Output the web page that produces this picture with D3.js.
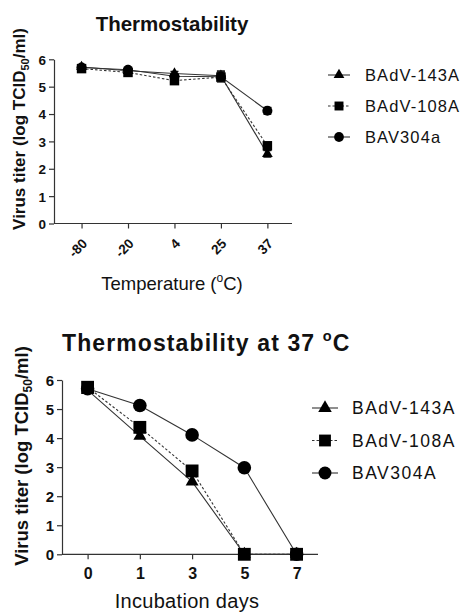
<!DOCTYPE html>
<html><head><meta charset="utf-8">
<script src="https://cdn.jsdelivr.net/npm/d3@7"></script>
<style>body{margin:0;background:#fff}svg{display:block}text{font-family:"Liberation Sans",Arial,sans-serif;fill:#111}</style>
</head><body><svg id="c" width="461" height="614"></svg>
<script>
const series = ["BAdV-143A","BAdV-108A","BAV304a"];
const seriesB = ["BAdV-143A","BAdV-108A","BAV304A"];
const tempLabels = ["-80","-20","4","25","37"];
const temp143 = [5.72,5.58,5.48,5.40,2.54];
const temp108 = [5.66,5.52,5.22,5.35,2.84];
const temp304 = [5.70,5.62,5.38,5.36,4.12];
const tempErr = [0.05,0.08,0.08,0.18,0.12];
const dayLabels = ["0","1","3","5","7"];
const day143 = [5.65,4.07,2.50,0,0];
const day108 = [5.75,4.37,2.87,0,0];
const day304 = [5.70,5.12,4.11,2.98,0];
const yTicks = [0,1,2,3,4,5,6];

const svg = d3.select("#c");
const shapes = [d3.symbolTriangle, d3.symbolSquare, d3.symbolCircle];
const dashes = [null, "2.5,2", null];

function panel(o){
  const g = svg.append("g");
  const x = d3.scaleLinear().domain([o.xmin, o.xmax]).range([o.left, o.right]);
  const y = d3.scaleLinear().domain([0,6]).range([o.bottom, o.top]);
  const ya = g.append("g").attr("transform",`translate(${o.left},0)`)
    .call(d3.axisLeft(y).tickValues(yTicks).tickFormat(d3.format("d")).tickSize(5).tickSizeOuter(0));
  ya.select(".domain").attr("stroke","#333").attr("stroke-width",1.2);
  ya.selectAll(".tick line").attr("stroke","#333").attr("stroke-width",1.2);
  ya.selectAll("text").attr("font-size",o.yTickFont).attr("font-weight","bold").attr("x",-8).attr("dy","0.36em").style("font-family","Liberation Sans").style("fill","#111");
  const xa = g.append("g").attr("transform",`translate(0,${o.bottom})`)
    .call(d3.axisBottom(x).tickValues(d3.range(o.labels.length)).tickFormat(i=>o.labels[i]).tickSize(5).tickSizeOuter(0));
  xa.select(".domain").attr("stroke","#333").attr("stroke-width",1.2).attr("d",`M${o.left},0H${o.right}`);
  xa.selectAll(".tick line").attr("stroke","#333").attr("stroke-width",1.2);
  const xt = xa.selectAll("text").attr("font-size",o.xTickFont).attr("font-weight","bold").style("font-family","Liberation Sans").style("fill","#111");
  if(o.rotate){
    xt.attr("text-anchor","end").attr("y",0).attr("dy",0)
      .attr("transform","translate(6,21) rotate(-45)");
  } else {
    xt.attr("y",o.xTickY).attr("dy",0);
  }
  o.data.forEach((vals,si)=>{
    const line = d3.line().x((d,i)=>x(i)).y(d=>y(d));
    g.append("path").datum(vals).attr("d",line).attr("fill","none")
      .attr("stroke","#333").attr("stroke-width",1.1).attr("stroke-dasharray",dashes[si]);
  });
  o.data.forEach((vals,si)=>{
    if(o.err){
      vals.forEach((v,i)=>{
        const e=o.err[i];
        g.append("path").attr("d",`M${x(i)},${y(v+e)}V${y(v-e)}M${x(i)-4},${y(v+e)}H${x(i)+4}M${x(i)-4},${y(v-e)}H${x(i)+4}`)
          .attr("stroke","#111").attr("stroke-width",1.2);
      });
    }
    g.selectAll(null).data(vals).enter().append("path")
      .attr("transform",(d,i)=>`translate(${x(i)},${y(d)})`)
      .attr("d",d3.symbol().type(shapes[si]).size(o.msize[si])).attr("fill","#000");
  });
  o.names.forEach((n,si)=>{
    const ly = o.legY + si*o.legDy;
    g.append("line").attr("x1",o.legX).attr("x2",o.legX+o.legW).attr("y1",ly).attr("y2",ly)
      .attr("stroke","#333").attr("stroke-width",1.1).attr("stroke-dasharray",dashes[si]);
    g.append("path").attr("transform",`translate(${o.legX+o.legW/2},${ly})`)
      .attr("d",d3.symbol().type(shapes[si]).size(o.lsize[si])).attr("fill","#000");
    g.append("text").attr("x",o.legTx).attr("y",ly).attr("dy","0.36em")
      .attr("font-size",o.legFont).attr("letter-spacing",o.legLs).text(n);
  });
  return {g,x,y};
}

// Top panel
panel({left:54,right:292,top:59.3,bottom:223.5,xmin:-0.593,xmax:4.53,
  labels:tempLabels,yTickFont:13.5,xTickFont:13.5,rotate:true,
  data:[temp143,temp108,temp304],err:tempErr,msize:[50,90,80],lsize:[50,80,75],names:series,
  legX:328,legW:22,legTx:365,legY:75,legDy:31,legFont:16.5,legLs:1.1});
svg.append("text").attr("x",172).attr("y",30.5).attr("text-anchor","middle")
  .attr("font-size",20.5).attr("font-weight","bold").text("Thermostability");
{
  const t = svg.append("text").attr("transform","translate(25,129) rotate(-90)").attr("text-anchor","middle")
    .attr("font-size",17).attr("font-weight","bold");
  t.append("tspan").text("Virus titer (log TCID");
  t.append("tspan").attr("font-size",11).attr("dy",4).text("50");
  t.append("tspan").attr("dy",-4).text("/ml)");
  const xl = svg.append("text").attr("x",172).attr("y",290).attr("text-anchor","middle").attr("font-size",18.5);
  xl.append("tspan").text("Temperature (");
  xl.append("tspan").attr("font-size",12).attr("dy",-8).text("o");
  xl.append("tspan").attr("dy",8).text("C)");
}

// Bottom panel
panel({left:62,right:318,top:380,bottom:554.3,xmin:-0.49,xmax:4.41,
  labels:dayLabels,yTickFont:15,xTickFont:16,xTickY:25,rotate:false,
  data:[day143,day108,day304],err:null,msize:[72,165,145],lsize:[80,140,130],names:seriesB,
  legX:312,legW:26,legTx:352,legY:408,legDy:32.5,legFont:17.5,legLs:1.5});
{
  const t = svg.append("text").attr("x",62).attr("y",351).attr("font-size",23).attr("font-weight","bold")
    .attr("letter-spacing",1.1);
  t.append("tspan").text("Thermostability at 37 ");
  t.append("tspan").attr("font-size",14.5).attr("dy",-10).text("o");
  t.append("tspan").attr("dy",10).text("C");
  const yl = svg.append("text").attr("transform","translate(28,456) rotate(-90)").attr("text-anchor","middle")
    .attr("font-size",18.5).attr("font-weight","bold");
  yl.append("tspan").text("Virus titer (log TCID");
  yl.append("tspan").attr("font-size",12).attr("dy",4).text("50");
  yl.append("tspan").attr("dy",-4).text("/ml)");
  svg.append("text").attr("x",187).attr("y",608).attr("text-anchor","middle").attr("font-size",20).attr("letter-spacing",0.3)
    .text("Incubation days");
}
</script></body></html>
